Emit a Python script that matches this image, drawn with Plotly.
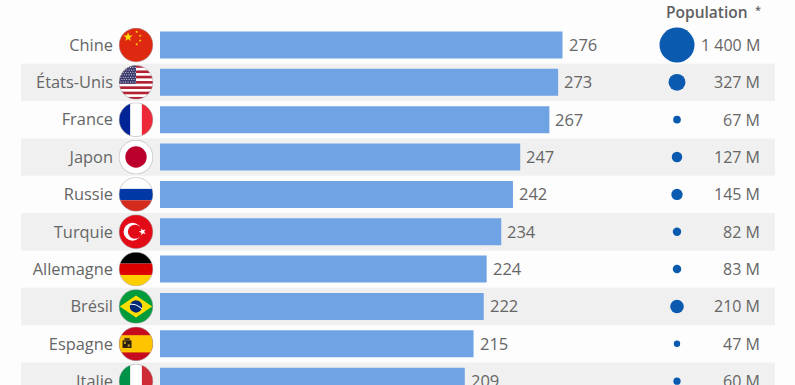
import base64
import math
import plotly.graph_objects as go

countries = ["Chine", "États-Unis", "France", "Japon", "Russie", "Turquie", "Allemagne", "Brésil", "Espagne", "Italie"]
values = [276, 273, 267, 247, 242, 234, 224, 222, 215, 209]
population = [1400, 327, 67, 127, 145, 82, 83, 210, 47, 60]
pop_labels = ["1 400 M", "327 M", "67 M", "127 M", "145 M", "82 M", "83 M", "210 M", "47 M", "60 M"]


def star(cx, cy, r, fill, rot=0):
    pts = []
    for k in range(10):
        rad = r if k % 2 == 0 else r * 0.4
        a = math.radians(-90 + rot + 36 * k)
        pts.append(f"{cx + rad * math.cos(a):.1f},{cy + rad * math.sin(a):.1f}")
    return f'<polygon points="{" ".join(pts)}" fill="{fill}"/>'


def rect(x, y, w, h, fill):
    return f'<rect x="{x}" y="{y}" width="{w}" height="{h}" fill="{fill}"/>'


def us():
    s = rect(0, 0, 100, 100, "#fff")
    for i in range(0, 13, 2):
        s += rect(0, i * 100 / 13, 100, 100 / 13, "#b22234")
    s += rect(0, 0, 50, 54, "#3c3b6e")
    for r in range(7):
        for c in range(7):
            s += f'<circle cx="{6 + c * 7 + (r % 2) * 3}" cy="{7 + r * 7}" r="1.5" fill="#fff"/>'
    return s


def spain():
    s = rect(0, 0, 100, 100, "#c60b1e") + rect(0, 25, 100, 50, "#ffc400")
    s += rect(11, 40, 26, 22, "#2a2010") + rect(16, 33, 16, 8, "#5a3d10")
    s += rect(15, 44, 6, 6, "#c8a020") + rect(26, 52, 6, 6, "#c8a020")
    return s


flags = {
    "Chine": rect(0, 0, 100, 100, "#de2910") + star(27, 27, 14, "#ffde00")
    + star(52, 12, 4.5, "#ffde00") + star(62, 23, 4.5, "#ffde00")
    + star(62, 37, 4.5, "#ffde00") + star(52, 48, 4.5, "#ffde00"),
    "États-Unis": us(),
    "France": rect(0, 0, 100, 100, "#fff") + rect(0, 0, 33, 100, "#002395") + rect(67, 0, 33, 100, "#ed2939"),
    "Japon": rect(0, 0, 100, 100, "#fff") + '<circle cx="50" cy="50" r="31" fill="#bc002d"/>',
    "Russie": rect(0, 0, 100, 34, "#fff") + rect(0, 34, 100, 33, "#0039a6") + rect(0, 67, 100, 33, "#d52b1e"),
    "Turquie": rect(0, 0, 100, 100, "#e30a17") + '<circle cx="40" cy="50" r="26" fill="#fff"/>'
    + '<circle cx="47" cy="50" r="20.5" fill="#e30a17"/>' + star(69, 50, 11, "#fff", -18),
    "Allemagne": rect(0, 0, 100, 34, "#000") + rect(0, 34, 100, 33, "#dd0000") + rect(0, 67, 100, 33, "#ffce00"),
    "Brésil": rect(0, 0, 100, 100, "#009b3a") + '<polygon points="3,50 50,18 97,50 50,82" fill="#fedf00"/>'
    + '<circle cx="50" cy="50" r="18" fill="#002776"/>'
    + '<path d="M33 44 Q52 42 67 57" stroke="#fff" stroke-width="3" fill="none"/>',
    "Espagne": spain(),
    "Italie": rect(0, 0, 100, 100, "#fff") + rect(0, 0, 33, 100, "#009246") + rect(67, 0, 33, 100, "#ce2b37"),
}


def flag_uri(body):
    svg = (
        '<svg xmlns="http://www.w3.org/2000/svg" viewBox="0 0 100 100" width="200" height="200">'
        '<defs><clipPath id="c"><circle cx="50" cy="50" r="49"/></clipPath></defs>'
        f'<g clip-path="url(#c)">{body}</g>'
        '<circle cx="50" cy="50" r="49" fill="none" stroke="#a8a8a8" stroke-width="1.6"/></svg>'
    )
    return "data:image/svg+xml;base64," + base64.b64encode(svg.encode()).decode()


TEXT = "#666666"
FONT = "Open Sans"
W, H = 795, 385
PX_PER_UNIT = 402.5 / 276
ROW = 37.35
Y0 = 45
BAR_X0 = 160

fig = go.Figure()

fig.add_trace(go.Bar(
    x=values, y=countries, orientation="h", width=27 / ROW,
    marker=dict(color="#6fa3e3", line=dict(width=0)),
    hoverinfo="skip",
))
fig.add_trace(go.Scatter(
    x=[677] * len(countries), y=countries, xaxis="x2", mode="markers",
    marker=dict(size=population, sizemode="area", sizeref=2.288, color="#0a5ab0", opacity=1, line=dict(width=0)),
    hoverinfo="skip",
))

shapes = [
    dict(type="rect", xref="x2", yref="y", x0=21, x1=775, y0=i - 0.5, y1=i + 0.5,
         fillcolor="#f0f0f0", line=dict(width=0), layer="below")
    for i in range(1, len(countries), 2)
]
images = [
    dict(source=flag_uri(flags[c]), xref="x2", yref="y", x=136, y=c, sizex=34.5, sizey=34.5 / ROW,
         xanchor="center", yanchor="middle", sizing="stretch", layer="above")
    for c in countries
]

value_notes = [
    dict(text=str(v), x=v, y=c, xref="x", yref="y", xanchor="left", yanchor="middle",
         xshift=4, yshift=0.5, showarrow=False, font=dict(family=FONT, size=16.5, color=TEXT))
    for v, c in zip(values, countries)
]
pop_notes = [
    dict(text=t, x=760, y=c, xref="x2", yref="y", xanchor="right", yanchor="middle",
         xshift=2, yshift=0, showarrow=False, font=dict(family=FONT, size=16, color=TEXT))
    for t, c in zip(pop_labels, countries)
]
header_notes = [
    dict(text="Population", xref="x2", yref="paper", x=707, y=1 - 12 / H,
         xanchor="center", yanchor="middle", showarrow=False,
         font=dict(family=FONT, size=15.5, color="#5f5f5f", weight=600)),
    dict(text="*", xref="x2", yref="paper", x=757.5, y=1 - 9 / H,
         xanchor="center", yanchor="middle", showarrow=False,
         font=dict(family=FONT, size=11, color="#5f5f5f", weight=600)),
]

fig.update_layout(
    width=W, height=H, margin=dict(l=0, r=0, t=0, b=0), autosize=False,
    paper_bgcolor="#fdfdfd", plot_bgcolor="rgba(0,0,0,0)", showlegend=False,
    shapes=shapes, images=images,
    xaxis=dict(range=[-BAR_X0 / PX_PER_UNIT, (W - BAR_X0) / PX_PER_UNIT], visible=False, domain=[0, 1], automargin=False),
    xaxis2=dict(range=[0, W], visible=False, overlaying="x", anchor="y", automargin=False),
    yaxis=dict(
        type="category", categoryorder="array", categoryarray=countries,
        range=[(H - Y0) / ROW, -Y0 / ROW], anchor="free", position=113 / W,
        showgrid=False, showline=False, zeroline=False, ticks="",
        automargin=False, ticklabeloverflow="allow",
        tickfont=dict(family=FONT, size=16.4, color=TEXT),
    ),
    annotations=value_notes + pop_notes + header_notes,
)

fig.write_html(
    "out.html", config={"displayModeBar": False},
    post_script="document.body.style.margin='0';document.body.style.overflow='hidden';",
)
